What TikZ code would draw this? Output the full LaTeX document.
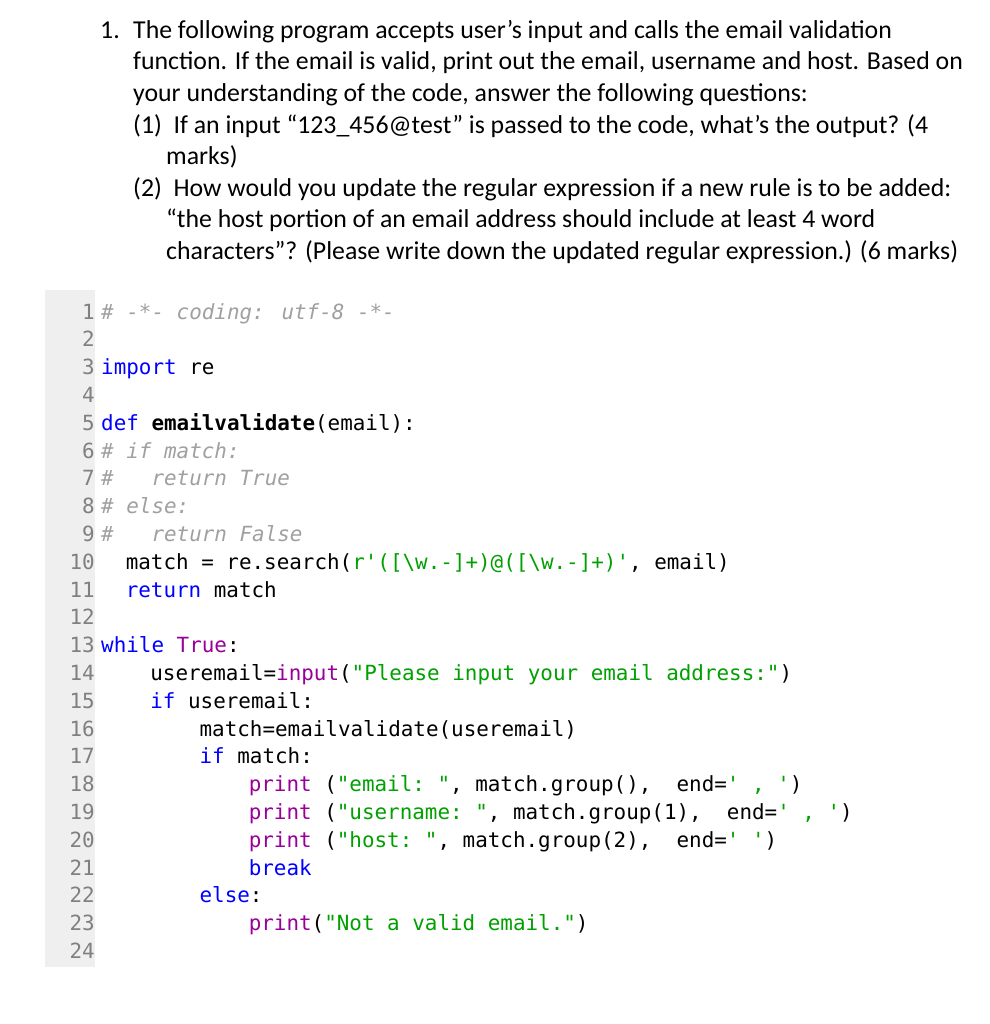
\documentclass[tikz,border=0pt]{standalone}
\usepackage{fontspec}
\setmainfont{Carlito}
\newfontfamily\codefont{DejaVu Sans Mono}
\definecolor{kwc}{HTML}{0000FF}
\definecolor{cmc}{HTML}{A0A0A0}
\definecolor{stc}{HTML}{00A000}
\definecolor{bic}{HTML}{990099}
\definecolor{lnc}{HTML}{808080}
\definecolor{gut}{HTML}{EFEFEF}
\newcommand\cK[1]{\textcolor{kwc}{#1}}
\newcommand\cC[1]{\textcolor{cmc}{\itshape #1}}
\newcommand\cS[1]{\textcolor{stc}{#1}}
\newcommand\cB[1]{\textcolor{bic}{#1}}
\begin{document}
\begin{tikzpicture}[x=1pt,y=-1pt,
  q/.style={anchor=base west,inner sep=0pt,font=\fontsize{25.8}{30}\selectfont},
  ln/.style={anchor=base east,inner sep=0pt,text=lnc,font=\codefont\fontsize{20.9}{24}\selectfont},
  cl/.style={anchor=base west,inner sep=0pt,font=\codefont\fontsize{20.9}{24}\selectfont}]
\useasboundingbox[fill=white] (0,0) rectangle (989,1024);
\fill[gut] (45,290) rectangle (95,967);
% question
\node[q] (q0) at (100,39) {1.};
\node[q] (q1) at (133,39) {The following program accepts user’s input and calls the email validation};
\node[q] (q2) at (133,70) {function. If the email is valid, print out the email, username and host. Based on};
\node[q] (q3) at (133,102) {your understanding of the code, answer the following questions:};
\node[q] (q4) at (133,134) {(1)\ \ If an input “123\_456@test” is passed to the code, what’s the output? (4};
\node[q] (q5) at (166,165) {marks)};
\node[q] (q6) at (133,197) {(2)\ \ How would you update the regular expression if a new rule is to be added:};
\node[q] (q7) at (166,228) {“the host portion of an email address should include at least 4 word};
\node[q] (q8) at (166,259) {characters”? (Please write down the updated regular expression.) (6 marks)};
% line numbers
\foreach \n in {1,...,24}{\node[ln] (n\n) at (95,319+27.8*\n-27.8) {\n};}
\def\L#1#2#3{\node[cl] (c#1) at (101+12.3*#2,319+27.8*#1-27.8) {#3};}
\L{1}{0}{\cC{\# -*- coding: utf-8 -*-}}
\L{3}{0}{\cK{import} re}
\L{5}{0}{\cK{def} \textbf{emailvalidate}(email):}
\L{6}{0}{\cC{\# if match:}}
\L{7}{0}{\cC{\#~~~return True}}
\L{8}{0}{\cC{\# else:}}
\L{9}{0}{\cC{\#~~~return False}}
\L{10}{2}{match = re.search(\cS{r'([\textbackslash w.-]+)@([\textbackslash w.-]+)'}, email)}
\L{11}{2}{\cK{return} match}
\L{13}{0}{\cK{while} \cB{True}:}
\L{14}{4}{useremail=\cB{input}(\cS{"Please input your email address:"})}
\L{15}{4}{\cK{if} useremail:}
\L{16}{8}{match=emailvalidate(useremail)}
\L{17}{8}{\cK{if} match:}
\L{18}{12}{\cB{print} (\cS{"email:~"}, match.group(),~~end=\cS{'~,~'})}
\L{19}{12}{\cB{print} (\cS{"username:~"}, match.group(1),~~end=\cS{'~,~'})}
\L{20}{12}{\cB{print} (\cS{"host:~"}, match.group(2),~~end=\cS{'~'})}
\L{21}{12}{\cK{break}}
\L{22}{8}{\cK{else}:}
\L{23}{12}{\cB{print}(\cS{"Not a valid email."})}
\end{tikzpicture}
\end{document}
